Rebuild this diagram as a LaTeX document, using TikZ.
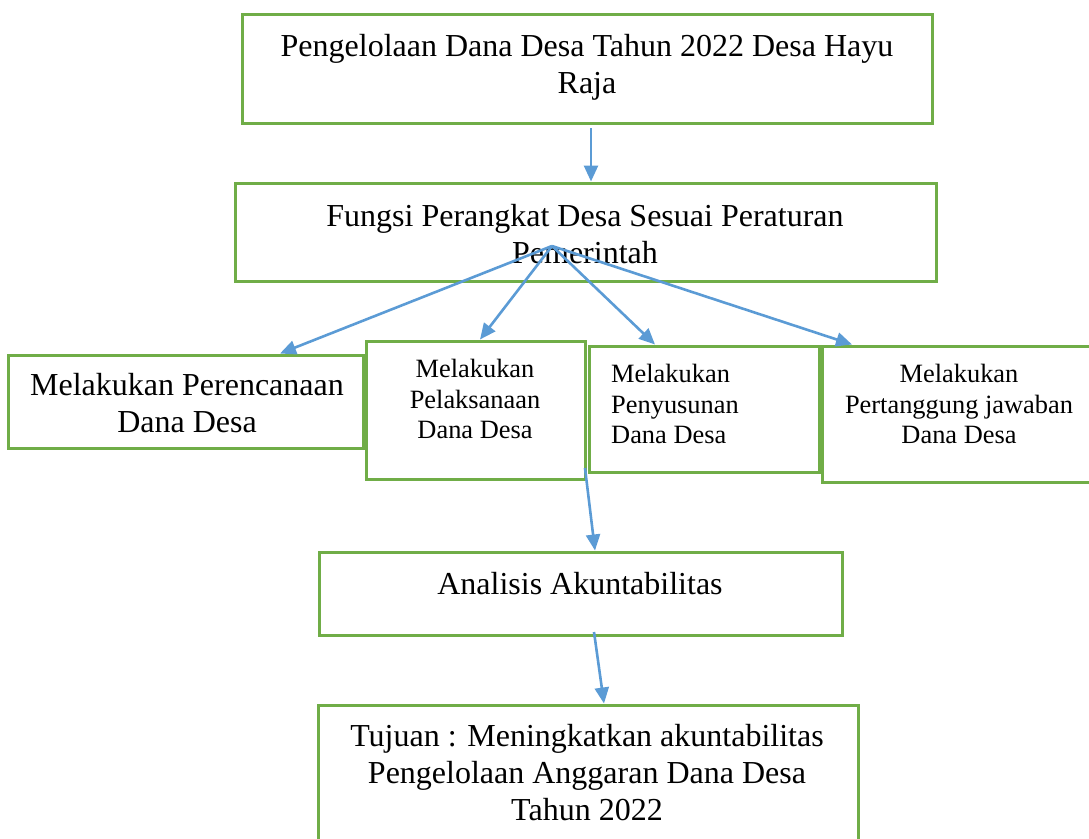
\documentclass[tikz,border=0pt]{standalone}
\usepackage{fontspec}
\setmainfont{Liberation Serif}
\usetikzlibrary{arrows.meta}
\definecolor{boxgreen}{HTML}{70AD47}
\definecolor{linkblue}{HTML}{5B9BD5}
\newcommand{\bigtxt}{\fontsize{32}{37}\selectfont}
\newcommand{\smalltxt}{\fontsize{26.4}{30.5}\selectfont}
\tikzset{box/.style={draw=boxgreen, line width=3pt, fill=white, rectangle},
         lbl/.style={inner sep=0pt, align=center, anchor=north, font=\bigtxt},
         small lbl/.style={lbl, font=\smalltxt},
         link/.style={draw=linkblue, line width=2.6pt,
                      -{Triangle[length=16pt,width=14pt]}}}

\begin{document}
\begin{tikzpicture}[x=1pt, y=-1pt]
  \useasboundingbox (0,0) rectangle (1089,838);
  \clip (0,0) rectangle (1089,838);
  % boxes
  \node[box, minimum width=690pt, minimum height=109pt] (top) at (587,68.5) {};
  \node[box, minimum width=701pt, minimum height=98pt] (fungsi) at (585.5,232) {};
  \node[box, minimum width=355pt, minimum height=93pt] (plan) at (185.5,401.5) {};
  \node[box, minimum width=219pt, minimum height=138pt] (laksana) at (475.5,410) {};
  \node[box, minimum width=230pt, minimum height=126pt] (susun) at (704,409) {};
  \node[box, minimum width=276pt, minimum height=136pt] (tanggung) at (960,414) {};
  \node[box, minimum width=523pt, minimum height=83pt] (analisis) at (580.5,593.5) {};
  \node[box, minimum width=540pt, minimum height=140pt] (tujuan) at (588,775) {};
  % texts
  \node[lbl] (top-t) at (587,34) {Pengelolaan Dana Desa Tahun 2022 Desa Hayu\\Raja};
  \node[lbl] (fungsi-t) at (585,204) {Fungsi Perangkat Desa Sesuai Peraturan\\Pemerintah};
  \node[lbl] (plan-t) at (187,373) {Melakukan Perencanaan\\Dana Desa};
  \node[small lbl] (laksana-t) at (475,359) {Melakukan\\Pelaksanaan\\Dana Desa};
  \node[small lbl, anchor=north west, align=left] (susun-t) at (611,364)
    {Melakukan\\Penyusunan\\Dana Desa};
  \node[small lbl] (tanggung-t) at (959,364) {Melakukan\\Pertanggung jawaban\\Dana Desa};
  \node[lbl] (analisis-t) at (580,572) {Analisis Akuntabilitas};
  \node[lbl] (tujuan-t) at (587,724)
    {Tujuan : Meningkatkan akuntabilitas\\Pengelolaan Anggaran Dana Desa\\Tahun 2022};
  % arrows
  \coordinate (top-out) at (591,128);
  \coordinate (fan) at (552,246);
  \coordinate (laksana-out) at (585,468);
  \coordinate (analisis-out) at (594,632);
  \draw[link] (top-out) -- (591,0 |- fungsi.north);
  \draw[link] (fan) -- (280,0 |- plan.north);
  \draw[link] (fan) -- (480,0 |- laksana.north);
  \draw[link] (fan) -- (655,0 |- susun.north);
  \draw[link] (fan) -- (852,0 |- tanggung.north);
  \draw[link] (laksana-out) -- (595,0 |- analisis.north);
  \draw[link] (analisis-out) -- (604,0 |- tujuan.north);
\end{tikzpicture}
\end{document}
